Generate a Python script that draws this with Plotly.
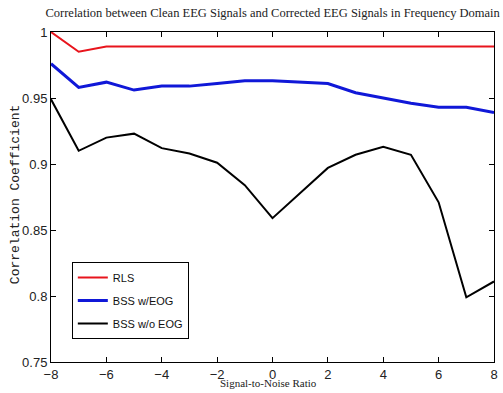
import plotly.graph_objects as go

# Signal-to-noise ratio values (dB)
snr = [-8, -7, -6, -5, -4, -3, -2, -1, 0, 1, 2, 3, 4, 5, 6, 7, 8]

# Correlation coefficients for each correction method
rls = [1.000, 0.985, 0.989, 0.989, 0.989, 0.989, 0.989, 0.989, 0.989,
       0.989, 0.989, 0.989, 0.989, 0.989, 0.989, 0.989, 0.989]
bss_with_eog = [0.976, 0.958, 0.962, 0.956, 0.959, 0.959, 0.961, 0.963, 0.963,
                0.962, 0.961, 0.954, 0.950, 0.946, 0.943, 0.943, 0.939]
bss_without_eog = [0.949, 0.910, 0.920, 0.923, 0.912, 0.908, 0.901, 0.884, 0.859,
                   0.878, 0.897, 0.907, 0.913, 0.907, 0.871, 0.799, 0.811]

x_ticks = [-8, -6, -4, -2, 0, 2, 4, 6, 8]
y_ticks = [0.75, 0.8, 0.85, 0.9, 0.95, 1.0]
y_tick_text = ["0.75", "0.8", "0.85", "0.9", "0.95", "1"]

fig = go.Figure()
series = [
    ("RLS", rls, "#e8141c", 2),
    ("BSS w/EOG", bss_with_eog, "#1018d8", 3),
    ("BSS w/o EOG", bss_without_eog, "#000000", 2),
]
for name, values, color, width in series:
    fig.add_trace(go.Scatter(
        x=snr, y=values, mode="lines", name=name, legendgroup=name,
        line=dict(color=color, width=width),
    ))

tick_font = dict(family="Liberation Sans Narrow, Liberation Sans, Arial", size=13, color="#222")
axis_common = dict(
    showline=True, linecolor="black", linewidth=1, mirror="allticks",
    ticks="inside", ticklen=5, tickcolor="black", showgrid=False, zeroline=False,
    tickfont=tick_font,
)

fig.update_layout(
    width=503, height=393,
    margin=dict(l=51, r=5, t=32, b=31),
    paper_bgcolor="white", plot_bgcolor="white",
    showlegend=True,
    title=dict(
        text="Correlation between Clean EEG Signals and Corrected EEG Signals in Frequency Domain",
        font=dict(family="Liberation Serif, Times New Roman", size=12.5, color="#222"),
        x=0.542, xanchor="center", y=0.967, yanchor="middle",
    ),
    xaxis=dict(range=[-8, 8], tickvals=x_ticks, ticklabelstandoff=0, **axis_common),
    yaxis=dict(range=[0.75, 1.0], tickvals=y_ticks, ticktext=y_tick_text, **axis_common),
    legend=dict(
        x=0.047, y=0.303, xanchor="left", yanchor="top",
        bgcolor="white", bordercolor="black", borderwidth=1,
        font=dict(family="Liberation Sans Narrow, Liberation Sans, Arial", size=11, color="#111"),
        traceorder="grouped", tracegroupgap=4,
    ),
    annotations=[
        dict(text="Signal-to-Noise Ratio", xref="paper", yref="paper",
             x=0.49, y=-0.064, xanchor="center", yanchor="middle", showarrow=False,
             font=dict(family="Liberation Serif, Times New Roman", size=11, color="#222")),
        dict(text="Correlation Coefficient", xref="paper", yref="paper",
             x=-0.081, y=0.506, xanchor="center", yanchor="middle", showarrow=False,
             textangle=-90,
             font=dict(family="Liberation Mono, Courier New", size=13, color="#222")),
    ],
)

fig.write_html("out.html")
